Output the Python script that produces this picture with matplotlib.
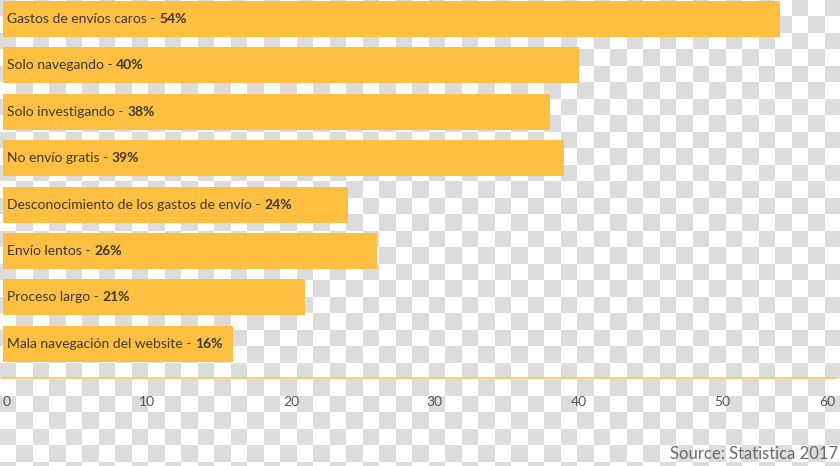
import numpy as np
import matplotlib
matplotlib.use("Agg")
import matplotlib.pyplot as plt
from matplotlib.colors import ListedColormap

plt.rcParams['font.family'] = ['Lato', 'DejaVu Sans']

# data
categories = ["Gastos de envíos caros", "Solo navegando", "Solo investigando",
              "No envío gratis", "Desconocimiento de los gastos de envío",
              "Envío lentos", "Proceso largo", "Mala navegación del website"]
values = [54, 40, 38, 39, 24, 26, 21, 16]
tick_values = [0, 10, 20, 30, 40, 50]
tick_labels = ["0", "10", "20", "30", "40", "50", "60"]
source = "Source: Statistica 2017"

bar_color = "#ffbf40"
text_color = "#3a3a3a"

W, H = 840, 466
fig = plt.figure(figsize=(W / 100, H / 100), dpi=100)

# transparent-look checker background
cell = 16.5
ncols = int(np.ceil(W / cell))
nrows = int(np.ceil(H / cell))
rr, cc = np.mgrid[0:nrows, 0:ncols]
checker = ((rr + cc) % 2 == 0).astype(int)
bg = fig.add_axes([0, 0, 1, 1])
bg.imshow(checker, cmap=ListedColormap(["#ffffff", "#dcdcdc"]),
          extent=(0, ncols * cell, nrows * cell, 0), interpolation="nearest")
bg.set_xlim(0, W)
bg.set_ylim(H, 0)
bg.axis("off")

# main chart
ax = fig.add_axes([3 / W, (H - 378) / H, 832 / W, 378 / H])
ax.patch.set_alpha(0)
y = np.arange(len(categories))
ax.barh(y, values, height=0.776, color=bar_color, zorder=2)
ax.set_ylim(7.737, -0.41)
ax.set_xlim(0, 57.8)

for i, (cat, v) in enumerate(zip(categories, values)):
    t = ax.annotate(cat + " - ", xy=(0, i), xytext=(3, 0), textcoords="offset points",
                    va="center", ha="left", fontsize=10, color=text_color, zorder=3)
    ax.annotate(f"{v}%", xy=(1, 0), xycoords=t, va="bottom", ha="left",
                fontsize=10, fontweight="bold", color=text_color, zorder=3)

ax.set_xticks(tick_values + [ax.get_xlim()[1]])
ax.set_xticklabels(tick_labels, fontsize=10, color="#555555")
ax.get_xticklabels()[-1].set_ha("right")
ax.get_xticklabels()[0].set_ha("left")
ax.tick_params(axis="x", length=0, pad=13)
ax.set_yticks([])
for s in ["top", "right", "left"]:
    ax.spines[s].set_visible(False)
ax.spines["bottom"].set_color("#ffc94d")
ax.spines["bottom"].set_linewidth(1.2)

fig.text(838 / W, 4 / H, source, ha="right", va="bottom", fontsize=12,
         color="#6a6a6a")

fig.savefig("out.png", dpi=100)
